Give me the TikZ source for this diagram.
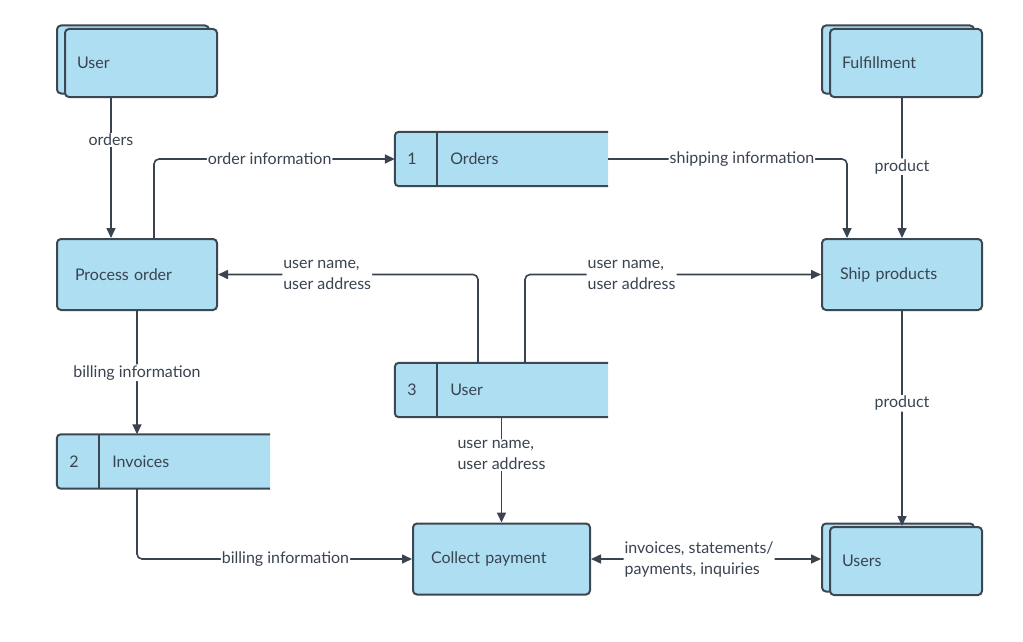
\documentclass[tikz,border=0pt]{standalone}
\usepackage{fontspec}
\setmainfont{Lato}
\usetikzlibrary{arrows.meta,shadows}
\definecolor{boxfill}{HTML}{ADDEF2}
\definecolor{boxline}{HTML}{3D4752}
\definecolor{inkgray}{HTML}{3A4350}
\tikzset{
  every node/.style={font=\fontsize{16}{21}\selectfont,text=inkgray},
  process/.style={draw=boxline,fill=boxfill,line width=2pt,rounded corners=4pt,
    minimum width=160,minimum height=71,inner xsep=18,text width=124,align=left},
  entity/.style={draw=boxline,fill=boxfill,line width=2pt,rounded corners=4pt,
    minimum width=152,minimum height=68,inner xsep=12,text width=128,align=left,
    copy shadow={shadow xshift=-8pt,shadow yshift=3.5pt}},
  store/.style={fill=boxfill,rounded corners=4pt,minimum width=213,minimum height=54,inner sep=0},
  storeline/.style={draw=boxline,line width=2pt,rounded corners=4pt},
  flow/.style={draw=inkgray,line width=1.6pt,rounded corners=5pt,->},
  tag/.style={fill=white,inner sep=1pt,align=left}
}
\newcommand{\datastore}[4]{% name, centre, number, text
  \node[store] (#1) at (#2) {};
  \fill[boxfill] ([xshift=-6]#1.north east) rectangle (#1.south east);
  \draw[storeline] (#1.north east) -- (#1.north west) -- (#1.south west) -- (#1.south east);
  \draw[boxline,line width=1.6pt] ([xshift=42]#1.north west) -- ([xshift=42]#1.south west);
  \node[anchor=west] (#1num) at ([xshift=9]#1.west) {#3};
  \node[anchor=west] (#1txt) at ([xshift=52]#1.west) {#4};
}
\begin{document}
\begin{tikzpicture}[x=1pt,y=-1pt,>={Triangle[length=10pt,width=9pt]}]
\useasboundingbox[fill=white] (0,0) rectangle (1023,642);
% external entities
\node[entity] (user) at (141,63) {User};
\node[entity] (fulfil) at (906,63) {Fulfillment};
\node[entity] (users) at (906,561) {Users};
% processes
\node[process] (proc) at (137,274.5) {Process order};
\node[process] (ship) at (902,274.5) {Ship products};
\node[process,minimum width=177,text width=141] (pay) at (501.5,559) {Collect payment};
% data stores
\datastore{ord}{501.5,159}{1}{Orders}
\datastore{usr}{501.5,390}{3}{User}
\datastore{inv}{163.5,461.5}{2}{Invoices}
% flows
\draw[flow] ([xshift=-30]user.south) -- ([xshift=-26]proc.north)
  node[tag,pos=0.3] {orders};
\draw[flow] ([xshift=17]proc.north) |- (ord.west)
  node[tag,pos=0.74] {order information};
\draw[flow] (ord.east) -| ([xshift=-55]ship.north)
  node[tag,pos=0.28] {shipping information};
\draw[flow] (ship.north |- fulfil.south) -- (ship.north)
  node[tag,pos=0.49] {product};
\draw[flow] ([xshift=-23.5]usr.north) |- (proc.east)
  node[tag,pos=0.79] {user name,\\user address};
\draw[flow] ([xshift=23.5]usr.north) |- (ship.west)
  node[tag,pos=0.68] {user name,\\user address};
\draw[flow] (proc.south) -- (proc.south |- inv.north)
  node[tag,pos=0.5] {billing information};
\draw[flow] ([xshift=-26.5]inv.south) |- (pay.west)
  node[tag,pos=0.77] {billing information};
\draw[flow] (usr.south) -- (usr.south |- pay.north)
  node[tag,pos=0.36] {user name,\\user address};
\draw[flow] (ship.south) -- (ship.south |- users.north)
  node[tag,pos=0.43] {product};
\draw[flow,<->] (pay.east) -- ([xshift=-8]pay.east -| users.west)
  node[tag,pos=0.47] {invoices, statements/\\payments, inquiries};
\end{tikzpicture}
\end{document}
